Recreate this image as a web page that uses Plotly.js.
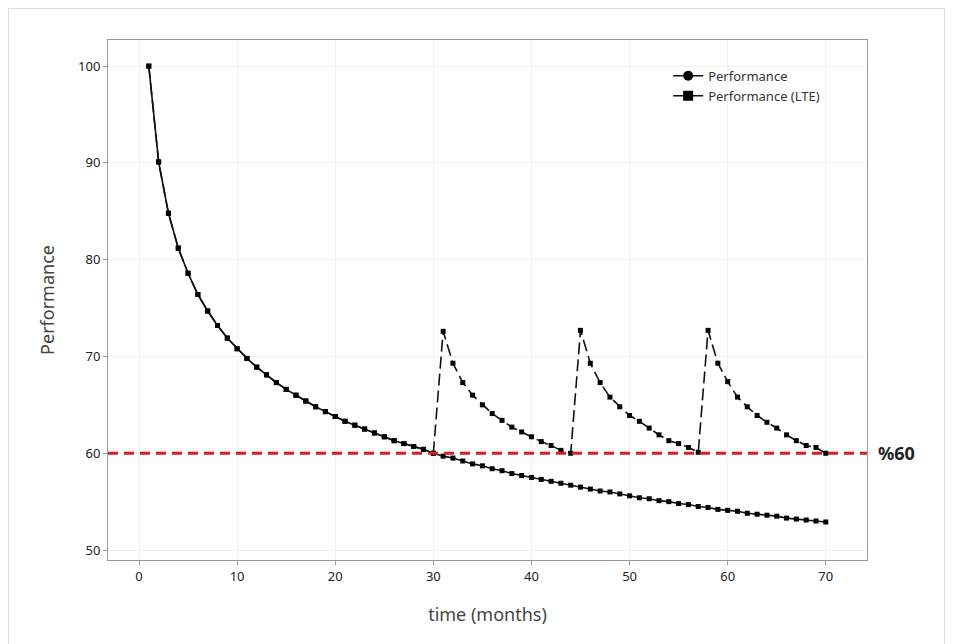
<!DOCTYPE html>
<html>
<head>
<meta charset="utf-8">
<script src="https://cdn.plot.ly/plotly-3.0.1.min.js"></script>
<style>
html,body{margin:0;padding:0;background:#fff;}
#frame{position:absolute;left:8px;top:8px;width:937px;height:650px;border:1px solid #dcdcdc;box-sizing:border-box;}
#chart{position:absolute;left:0;top:0;width:954px;height:644px;}
</style>
</head>
<body>
<div id="frame"></div>
<div id="chart"></div>
<script>
const months = [1,2,3,4,5,6,7,8,9,10,11,12,13,14,15,16,17,18,19,20,21,22,23,24,25,26,27,28,29,30,
  31,32,33,34,35,36,37,38,39,40,41,42,43,44,45,46,47,48,49,50,51,52,53,54,55,56,57,58,59,60,
  61,62,63,64,65,66,67,68,69,70];

const performance = [100.0,90.1,84.8,81.2,78.6,76.4,74.7,73.2,71.9,70.8,69.8,68.9,68.1,67.3,66.6,66.0,65.4,64.8,64.3,63.8,
  63.3,62.9,62.5,62.1,61.7,61.3,61.0,60.7,60.4,60.0,59.7,59.5,59.2,58.9,58.7,58.4,58.2,57.9,57.7,57.5,
  57.3,57.1,56.9,56.7,56.5,56.3,56.1,56.0,55.8,55.6,55.4,55.3,55.1,55.0,54.8,54.7,54.5,54.4,54.2,54.1,
  54.0,53.8,53.7,53.6,53.5,53.3,53.2,53.1,53.0,52.9];

const performanceLTE = [100.0,90.1,84.8,81.2,78.6,76.4,74.7,73.2,71.9,70.8,69.8,68.9,68.1,67.3,66.6,66.0,65.4,64.8,64.3,63.8,
  63.3,62.9,62.5,62.1,61.7,61.3,61.0,60.7,60.4,60.0,
  72.6,69.3,67.3,66.0,65.0,64.1,63.4,62.7,62.2,61.7,61.2,60.8,60.3,60.0,
  72.7,69.3,67.3,65.8,64.8,63.9,63.3,62.6,61.9,61.3,61.0,60.6,60.1,
  72.7,69.3,67.4,65.8,64.8,63.9,63.2,62.6,61.9,61.3,60.8,60.6,60.0];

const threshold = 60;
const thresholdLabel = '%60';
const xTicks = [0,10,20,30,40,50,60,70];
const yTicks = [50,60,70,80,90,100];
const seriesNames = ['Performance','Performance (LTE)'];

const FONT = '"Noto Sans", "Open Sans", sans-serif';

const traces = [
  {x: months, y: performance, type:'scatter', mode:'lines+markers', showlegend:false,
   line:{color:'#111', width:1.6}, marker:{symbol:'square', size:5, color:'#000'}},
  {x: months, y: performanceLTE, type:'scatter', mode:'lines+markers', showlegend:false,
   line:{color:'#111', width:1.6, dash:'12px,5px'}, marker:{symbol:'square', size:5, color:'#000'}},
  {x:[null], y:[null], type:'scatter', mode:'lines+markers', name:seriesNames[0],
   line:{color:'#111', width:1.5}, marker:{symbol:'circle', size:10, color:'#000'}},
  {x:[null], y:[null], type:'scatter', mode:'lines+markers', name:seriesNames[1],
   line:{color:'#111', width:1.5}, marker:{symbol:'square', size:10, color:'#000'}}
];

const axisCommon = {
  showline:true, mirror:true, linecolor:'#9a9a9a', linewidth:1,
  showgrid:true, gridcolor:'#f1f1f1', gridwidth:1, zeroline:false,
  ticks:'outside', ticklen:4, tickcolor:'#9a9a9a', tickwidth:1,
  tickfont:{family:FONT, size:13, color:'#222'}
};

const layout = {
  width:954, height:644,
  margin:{l:108, r:87, t:40, b:84},
  paper_bgcolor:'rgba(0,0,0,0)', plot_bgcolor:'#fff',
  font:{family:FONT, color:'#333'},
  xaxis: Object.assign({}, axisCommon, {
    range:[-3.16, 74.2], tickvals:xTicks, ticktext:xTicks.map(String),
    title:{text:'time (months)', font:{family:FONT, size:18, color:'#444'}, standoff:24}
  }),
  yaxis: Object.assign({}, axisCommon, {
    range:[48.97, 102.7], tickvals:yTicks, ticktext:yTicks.map(String),
    title:{text:'Performance', font:{family:FONT, size:18, color:'#444'}, standoff:18}
  }),
  legend:{x:0.738, y:0.96, xanchor:'left', yanchor:'top', bgcolor:'rgba(0,0,0,0)',
    font:{family:FONT, size:13, color:'#333'}, tracegroupgap:0},
  shapes:[{type:'line', xref:'paper', x0:0, x1:1, yref:'y', y0:threshold, y1:threshold,
    line:{color:'#d42121', width:3, dash:'10px,6px'}}],
  annotations:[{xref:'paper', x:1.012, xanchor:'left', yref:'y', y:threshold, yanchor:'middle',
    text:'<b>'+thresholdLabel+'</b>', showarrow:false, font:{family:FONT, size:18, color:'#222'}}]
};

Plotly.newPlot('chart', traces, layout, {displayModeBar:false, staticPlot:true});
</script>
</body>
</html>
